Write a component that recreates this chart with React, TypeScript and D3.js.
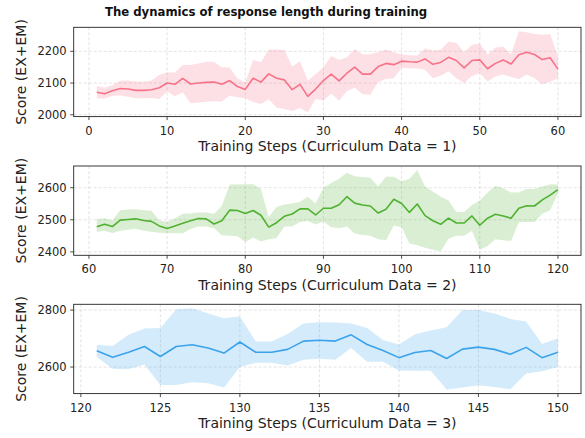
import React from "react";
import * as d3 from "d3";

const TITLE = "The dynamics of response length during training";
const Y_LABEL = "Score (EX+EM)";

const steps1 = d3.range(1, 61);
const mean1 = [2071, 2066, 2076, 2083, 2081, 2077, 2077, 2079, 2085, 2100, 2096, 2115, 2097, 2100, 2102, 2103, 2096, 2108, 2089, 2080, 2115, 2103, 2129, 2115, 2110, 2079, 2096, 2058, 2081, 2108, 2128, 2107, 2131, 2150, 2128, 2128, 2152, 2162, 2158, 2169, 2167, 2166, 2176, 2159, 2165, 2181, 2171, 2148, 2171, 2173, 2145, 2162, 2173, 2160, 2189, 2197, 2190, 2174, 2180, 2144];
const upper1 = [2091, 2085, 2093, 2107, 2108, 2105, 2104, 2108, 2126, 2133, 2133, 2157, 2157, 2162, 2167, 2167, 2150, 2149, 2114, 2102, 2173, 2166, 2206, 2206, 2204, 2152, 2169, 2108, 2128, 2150, 2185, 2173, 2181, 2207, 2190, 2191, 2197, 2206, 2197, 2190, 2188, 2187, 2210, 2203, 2205, 2231, 2226, 2197, 2221, 2225, 2190, 2211, 2215, 2191, 2263, 2260, 2255, 2252, 2255, 2183];
const lower1 = [2052, 2051, 2060, 2061, 2057, 2052, 2052, 2053, 2050, 2073, 2058, 2071, 2036, 2039, 2041, 2043, 2042, 2060, 2055, 2052, 2040, 2034, 2049, 2023, 2018, 2012, 2021, 2007, 2050, 2045, 2067, 2044, 2075, 2085, 2065, 2063, 2103, 2113, 2115, 2148, 2147, 2146, 2142, 2115, 2123, 2137, 2115, 2100, 2122, 2131, 2105, 2121, 2127, 2119, 2113, 2127, 2115, 2096, 2104, 2115];

const steps2 = d3.range(61, 121);
const mean2 = [2478, 2486, 2479, 2499, 2501, 2503, 2498, 2495, 2481, 2473, 2481, 2489, 2497, 2504, 2503, 2487, 2497, 2530, 2529, 2520, 2529, 2514, 2477, 2491, 2511, 2518, 2534, 2534, 2515, 2536, 2536, 2547, 2572, 2552, 2546, 2543, 2521, 2533, 2564, 2551, 2523, 2549, 2513, 2497, 2486, 2505, 2490, 2490, 2512, 2483, 2505, 2517, 2512, 2505, 2536, 2544, 2543, 2562, 2577, 2594];
const upper2 = [2502, 2505, 2498, 2530, 2532, 2533, 2530, 2528, 2498, 2493, 2504, 2519, 2520, 2523, 2523, 2519, 2543, 2610, 2610, 2611, 2611, 2596, 2509, 2540, 2548, 2551, 2556, 2572, 2551, 2600, 2615, 2628, 2647, 2636, 2633, 2631, 2604, 2634, 2634, 2620, 2628, 2655, 2604, 2588, 2572, 2560, 2524, 2524, 2546, 2560, 2585, 2606, 2598, 2585, 2585, 2596, 2596, 2604, 2611, 2610];
const lower2 = [2463, 2465, 2459, 2466, 2469, 2472, 2466, 2463, 2460, 2459, 2458, 2458, 2471, 2479, 2479, 2474, 2452, 2450, 2449, 2431, 2445, 2432, 2439, 2443, 2479, 2479, 2493, 2496, 2485, 2495, 2477, 2474, 2479, 2457, 2453, 2450, 2439, 2436, 2482, 2477, 2426, 2421, 2413, 2407, 2402, 2441, 2450, 2450, 2466, 2407, 2418, 2439, 2436, 2434, 2493, 2493, 2493, 2519, 2530, 2583];

const steps3 = d3.range(121, 151);
const mean3 = [2657, 2634, 2652, 2672, 2637, 2672, 2678, 2667, 2649, 2688, 2652, 2652, 2662, 2691, 2694, 2691, 2713, 2679, 2658, 2633, 2651, 2658, 2630, 2663, 2670, 2662, 2645, 2669, 2633, 2652];
const upper3 = [2678, 2674, 2713, 2735, 2737, 2803, 2806, 2788, 2771, 2777, 2690, 2690, 2716, 2753, 2757, 2756, 2753, 2737, 2695, 2679, 2714, 2728, 2740, 2800, 2800, 2788, 2769, 2760, 2681, 2701];
const lower3 = [2635, 2594, 2592, 2609, 2537, 2537, 2547, 2543, 2528, 2600, 2615, 2615, 2605, 2626, 2629, 2626, 2667, 2619, 2619, 2588, 2587, 2587, 2521, 2528, 2536, 2530, 2522, 2577, 2585, 2600];

const xTicks1 = [0, 10, 20, 30, 40, 50, 60];
const yTicks1 = [2000, 2100, 2200];
const xTicks2 = [60, 70, 80, 90, 100, 110, 120];
const yTicks2 = [2400, 2500, 2600];
const xTicks3 = [120, 125, 130, 135, 140, 145, 150];
const yTicks3 = [2600, 2800];

const xLabels = [
  "Training Steps (Curriculum Data = 1)",
  "Training Steps (Curriculum Data = 2)",
  "Training Steps (Curriculum Data = 3)",
];
const colors = ["#f77189", "#50b131", "#3ba3ec"];

const panels = [
  { steps: steps1, mean: mean1, upper: upper1, lower: lower1, xTicks: xTicks1, yTicks: yTicks1 },
  { steps: steps2, mean: mean2, upper: upper2, lower: lower2, xTicks: xTicks2, yTicks: yTicks2 },
  { steps: steps3, mean: mean3, upper: upper3, lower: lower3, xTicks: xTicks3, yTicks: yTicks3 },
];

const W = 585;
const H = 438;
const left = 73.7;
const right = 581;
const tops = [27.3, 166, 304.3];
const ph = 89.3;
const FONT = "DejaVu Sans, sans-serif";

function Panel({ p, i }: { p: typeof panels[0]; i: number }) {
  const top = tops[i];
  const bottom = top + ph;
  const xmin = d3.min(p.steps)!;
  const xmax = d3.max(p.steps)!;
  const xpad = (xmax - xmin) * 0.05;
  const x = d3.scaleLinear().domain([xmin - xpad, xmax + xpad]).range([left, right]);
  const ymin = d3.min(p.lower)!;
  const ymax = d3.max(p.upper)!;
  const ypad = (ymax - ymin) * 0.05;
  const y = d3.scaleLinear().domain([ymin - ypad, ymax + ypad]).range([bottom, top]);
  const idx = d3.range(p.steps.length);
  const area = d3
    .area<number>()
    .x((k) => x(p.steps[k]))
    .y0((k) => y(p.lower[k]))
    .y1((k) => y(p.upper[k]));
  const line = d3
    .line<number>()
    .x((k) => x(p.steps[k]))
    .y((k) => y(p.mean[k]));
  const color = colors[i];
  return (
    <g>
      <defs>
        <clipPath id={`clip${i}`}>
          <rect x={left} y={top} width={right - left} height={ph} />
        </clipPath>
      </defs>
      <g clipPath={`url(#clip${i})`}>
        {p.xTicks.map((t) => (
          <line key={"gx" + t} x1={x(t)} x2={x(t)} y1={top} y2={bottom} stroke="#b0b0b0" strokeOpacity={0.45} strokeWidth={0.8} strokeDasharray="3,2" />
        ))}
        {p.yTicks.map((t) => (
          <line key={"gy" + t} x1={left} x2={right} y1={y(t)} y2={y(t)} stroke="#b0b0b0" strokeOpacity={0.45} strokeWidth={0.8} strokeDasharray="3,2" />
        ))}
        <path d={area(idx)!} fill={color} fillOpacity={0.22} stroke="none" />
        <path d={line(idx)!} fill="none" stroke={color} strokeWidth={1.6} strokeLinejoin="round" />
      </g>
      <rect x={left} y={top} width={right - left} height={ph} fill="none" stroke="#222" strokeWidth={0.9} />
      {p.xTicks.map((t) => (
        <g key={"tx" + t}>
          <line x1={x(t)} x2={x(t)} y1={bottom} y2={bottom + 3.5} stroke="#222" strokeWidth={0.8} />
          <text x={x(t)} y={bottom + 18} textAnchor="middle" fontSize={11.5} fontFamily={FONT} fill="#222">{t}</text>
        </g>
      ))}
      {p.yTicks.map((t) => (
        <g key={"ty" + t}>
          <line x1={left - 3.5} x2={left} y1={y(t)} y2={y(t)} stroke="#222" strokeWidth={0.8} />
          <text x={left - 7} y={y(t)} dy="0.36em" textAnchor="end" fontSize={11.5} fontFamily={FONT} fill="#222">{t}</text>
        </g>
      ))}
      <text x={(left + right) / 2} y={bottom + 34.5} textAnchor="middle" fontSize={14} fontFamily={FONT} fill="#222">{xLabels[i]}</text>
      <text transform={`translate(${26},${(top + bottom) / 2}) rotate(-90)`} textAnchor="middle" fontSize={14} fontFamily={FONT} fill="#222">{Y_LABEL}</text>
    </g>
  );
}

export default function App() {
  return (
    <svg width={W} height={H} style={{ position: "absolute", left: 0, top: 0, background: "#fff" }}>
      <rect width={W} height={H} fill="#fff" />
      {panels.map((p, i) => (
        <Panel key={i} p={p} i={i} />
      ))}
      <text x={266} y={16} textAnchor="middle" fontSize={11.7} fontWeight="bold" fontFamily={FONT} fill="#111">{TITLE}</text>
    </svg>
  );
}
